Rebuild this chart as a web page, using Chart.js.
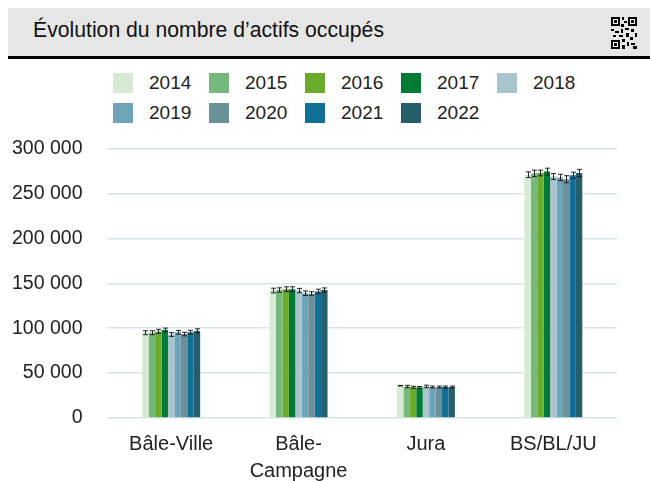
<!DOCTYPE html>
<html lang="fr">
<head>
<meta charset="utf-8">
<script src="https://cdn.jsdelivr.net/npm/chart.js@4"></script>
<style>
  html, body { margin: 0; padding: 0; background: #fff; overflow: hidden; }
  body { width: 650px; height: 481px; position: relative; font-family: "Liberation Sans", Arial, sans-serif; }
  .titlebar { position: absolute; left: 8px; top: 8px; width: 642px; height: 48px; background: #e6e6e6; border-bottom: 3px solid #000; }
  .titlebar h1 { margin: 0; position: absolute; left: 25px; top: 10px; font-size: 21.2px; font-weight: normal; color: #111; }
  .qr { position: absolute; left: 603px; top: 9px; }
  #legend { position: absolute; left: 113px; top: 73px; width: 500px; display: flex; flex-wrap: wrap; }
  #legend .item { width: 96px; height: 30px; display: flex; align-items: flex-start; font-size: 19px; color: #222; }
  #legend .box { width: 20px; height: 20px; margin-right: 16px; }
  #legend span { line-height: 20px; }
  .wrap { position: absolute; left: 0; top: 112px; width: 650px; height: 386px; }
</style>
</head>
<body>
<div class="titlebar">
  <h1>Évolution du nombre d’actifs occupés</h1>
  <svg class="qr" width="26" height="32" viewBox="0 0 26 32">
    <rect x="0" y="0" width="9" height="9" fill="#000"/><rect x="2" y="2" width="5" height="5" fill="#fff"/><rect x="3" y="3" width="3" height="3" fill="#000"/>
    <rect x="17" y="0" width="9" height="9" fill="#000"/><rect x="19" y="2" width="5" height="5" fill="#fff"/><rect x="20" y="3" width="3" height="3" fill="#000"/>
    <rect x="0" y="23" width="9" height="9" fill="#000"/><rect x="2" y="25" width="5" height="5" fill="#fff"/><rect x="3" y="26" width="3" height="3" fill="#000"/>
    <rect x="11" y="0" width="2" height="3" fill="#000"/><rect x="13" y="4" width="3" height="2" fill="#000"/><rect x="10" y="7" width="3" height="3" fill="#000"/>
    <rect x="0" y="12" width="3" height="2" fill="#000"/><rect x="4" y="14" width="4" height="2" fill="#000"/><rect x="10" y="12" width="2" height="4" fill="#000"/>
    <rect x="14" y="11" width="4" height="2" fill="#000"/><rect x="20" y="12" width="3" height="3" fill="#000"/><rect x="24" y="16" width="2" height="4" fill="#000"/>
    <rect x="2" y="18" width="3" height="2" fill="#000"/><rect x="8" y="18" width="4" height="2" fill="#000"/><rect x="15" y="16" width="3" height="4" fill="#000"/>
    <rect x="19" y="20" width="3" height="3" fill="#000"/><rect x="11" y="22" width="3" height="3" fill="#000"/><rect x="16" y="25" width="2" height="4" fill="#000"/>
    <rect x="20" y="26" width="4" height="2" fill="#000"/><rect x="11" y="28" width="3" height="4" fill="#000"/><rect x="22" y="29" width="4" height="3" fill="#000"/>
  </svg>
</div>
<div id="legend"></div>
<div class="wrap"><canvas id="chart"></canvas></div>
<script>
const categories = ['Bâle-Ville', ['Bâle-', 'Campagne'], 'Jura', 'BS/BL/JU'];
const years = ['2014', '2015', '2016', '2017', '2018', '2019', '2020', '2021', '2022'];
const colors = ['#d6ead4', '#74b87c', '#6aab2e', '#007b35', '#a8c4cc', '#6fa3b8', '#6a9198', '#126f96', '#255f6b'];

// actifs occupés par année : Bâle-Ville, Bâle-Campagne, Jura, BS/BL/JU
const v2014 = [95000, 142000, 36000, 271000];
const v2015 = [95000, 142500, 35000, 272500];
const v2016 = [96500, 143500, 34200, 273000];
const v2017 = [98000, 143500, 34000, 274500];
const v2018 = [93000, 142000, 35200, 269000];
const v2019 = [95500, 139000, 34500, 268000];
const v2020 = [93500, 138500, 34500, 266000];
const v2021 = [95500, 141000, 34500, 270500];
const v2022 = [97000, 142500, 34500, 273000];
const values = [v2014, v2015, v2016, v2017, v2018, v2019, v2020, v2021, v2022];

// intervalles de confiance (+/-)
const e2014 = [2200, 2600, 300, 3200];
const e2015 = [2200, 2500, 1400, 3600];
const e2016 = [2300, 2600, 1100, 3200];
const e2017 = [2200, 2700, 1100, 3800];
const e2018 = [2100, 2400, 1400, 3300];
const e2019 = [2100, 2500, 1100, 3600];
const e2020 = [2000, 2200, 1100, 3900];
const e2021 = [2200, 2500, 1100, 3400];
const e2022 = [2300, 2400, 1100, 4000];
const errors = [e2014, e2015, e2016, e2017, e2018, e2019, e2020, e2021, e2022];

const legendEl = document.getElementById('legend');
years.forEach((y, i) => {
  const item = document.createElement('div');
  item.className = 'item';
  item.innerHTML = '<div class="box" style="background:' + colors[i] + '"></div><span>' + y + '</span>';
  legendEl.appendChild(item);
});

const errorBars = {
  id: 'errorBars',
  afterDatasetsDraw(chart) {
    const ctx = chart.ctx;
    const yScale = chart.scales.y;
    ctx.save();
    ctx.strokeStyle = '#222';
    ctx.lineWidth = 1;
    chart.data.datasets.forEach((ds, di) => {
      const meta = chart.getDatasetMeta(di);
      meta.data.forEach((bar, i) => {
        const v = ds.data[i], e = errors[di][i];
        const top = yScale.getPixelForValue(v + e);
        const bot = yScale.getPixelForValue(v - e);
        const x = Math.round(bar.x) + 0.5;
        ctx.beginPath();
        ctx.moveTo(x, top); ctx.lineTo(x, bot);
        ctx.moveTo(x - 2.5, top); ctx.lineTo(x + 2.5, top);
        ctx.moveTo(x - 2.5, bot); ctx.lineTo(x + 2.5, bot);
        ctx.stroke();
      });
    });
    ctx.restore();
  }
};

new Chart(document.getElementById('chart'), {
  type: 'bar',
  data: {
    labels: categories,
    datasets: years.map((y, i) => ({
      label: y,
      data: values[i],
      backgroundColor: colors[i],
      borderWidth: 0,
      categoryPercentage: 0.455,
      barPercentage: 1.0
    }))
  },
  options: {
    responsive: true,
    maintainAspectRatio: false,
    animation: false,
    // la gauche est négative : l'axe y réserve deux fois le padding des ticks
    layout: { padding: { left: -13, right: 33, top: 0, bottom: 0 } },
    plugins: { legend: { display: false }, tooltip: { enabled: false } },
    scales: {
      x: {
        grid: { display: false, drawTicks: false },
        border: { display: false },
        ticks: { color: '#222', padding: 13, font: { family: 'Liberation Sans', size: 20, lineHeight: 1.35 }, maxRotation: 0 }
      },
      y: {
        min: 0,
        max: 300000,
        grid: { color: '#d8e4ec', lineWidth: 1.5, drawTicks: false },
        border: { display: false },
        ticks: {
          stepSize: 50000,
          padding: 25,
          color: '#222',
          font: { family: 'Liberation Sans', size: 19.5 },
          callback: v => String(v).replace(/\B(?=(\d{3})+(?!\d))/g, ' ')
        }
      }
    }
  },
  plugins: [errorBars]
});
</script>
</body>
</html>
